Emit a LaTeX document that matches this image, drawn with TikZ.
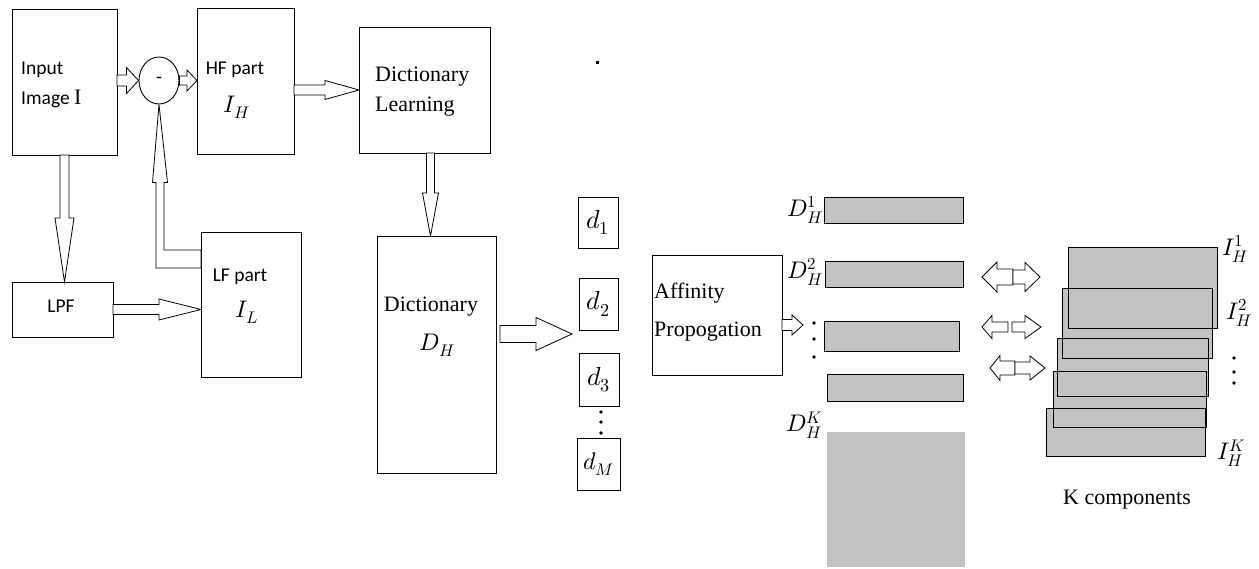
\documentclass[tikz,border=0pt]{standalone}
\usepackage{fontspec}
\usepackage{unicode-math}
\setmainfont{Liberation Serif}
\setmathfont{Latin Modern Math}
\newfontfamily\sansfont{Carlito}
\usetikzlibrary{calc,shapes.geometric}
\definecolor{panelgray}{RGB}{195,195,195}

% hollow block arrow: from, to, shaft half-width, head half-width, head length
\newcommand\hollowarrow[5]{%
  \path ($(#2)!#5!(#1)$) coordinate (hb);
  \draw[hollow] ($(#1)!#3!90:(#2)$) -- ($(hb)!#3!90:(#2)$) -- ($(hb)!#4!90:(#2)$)
    -- (#2) -- ($(hb)!#4!-90:(#2)$) -- ($(hb)!#3!-90:(#2)$) -- ($(#1)!#3!-90:(#2)$) -- cycle;}

\tikzset{
  box/.style 2 args={draw, line width=0.9pt, inner sep=0pt, outer sep=0pt,
    minimum width=#1, minimum height=#2},
  bar/.style 2 args={box={#1}{#2}, fill=panelgray},
  hollow/.style={draw, fill=white, line width=0.8pt, line join=miter},
  sanstxt/.style={font=\sansfont\fontsize{19.5}{30}\selectfont, inner sep=0pt},
  seriftxt/.style={font=\fontsize{22}{30}\selectfont, inner sep=0pt},
  mathtxt/.style={font=\fontsize{24}{28}\selectfont, inner sep=0pt},
  atomtxt/.style={font=\fontsize{26}{28}\selectfont},
}

\begin{document}
\begin{tikzpicture}[x=1pt, y=-1pt]
\useasboundingbox (0,0) rectangle (1259,569);
\fill[white] (0,0) rectangle (1259,569);

% ---- decomposition stage
\node[box={105pt}{146pt}] (inp) at (64.5,82) {};
\node[draw, ellipse, line width=0.9pt, inner sep=0pt, minimum width=40pt, minimum height=47pt,
      font=\sansfont\fontsize{19.5}{24}\selectfont] (sub) at (159,80.5) {-};
\node[box={97pt}{146pt}] (hf) at (245.5,81) {};
\node[box={131pt}{126pt}] (dl) at (424.5,90) {};
\node[box={101pt}{55pt}] (lpf) at (62.5,309.5) {};
\node[box={100pt}{145pt}] (lf) at (251,304.5) {};
\node[box={119pt}{237pt}] (dict) at (436.5,354.5) {};

% ---- atoms
\node[box={40pt}{51pt}, atomtxt] (d1) at (598,222.5) {$d_1$};
\node[box={39pt}{52pt}, atomtxt] (d2) at (598.5,304) {$d_2$};
\node[box={40pt}{53pt}, atomtxt] (d3) at (599,379.5) {$d_3$};
\node[box={43pt}{52pt}, mathtxt] (dM) at (598.5,464) {$d_M$};

% ---- clustering
\node[box={130pt}{120pt}] (ap) at (717,315) {};
\node[bar={139pt}{26pt}] (r1) at (893.5,210) {};
\node[bar={138pt}{26pt}] (r2) at (894,274) {};
\node[bar={135pt}{30pt}] (r3) at (891.5,336) {};
\node[bar={136pt}{27pt}] (r4) at (895,387.5) {};
\node[fill=panelgray, inner sep=0pt, minimum width=138pt, minimum height=135pt] (blk) at (896,499.5) {};

% ---- stacked components: fills first, then every outline on top
\foreach \xa/\ya/\xb/\yb in {1068/247/1217/328, 1062/288/1212/358, 1057/338/1208/396,
                             1053/371/1206/427, 1046/408/1205/456}
  \fill[panelgray] (\xa,\ya) rectangle (\xb,\yb);
\foreach \xa/\ya/\xb/\yb in {1068/247/1217/328, 1062/288/1212/358, 1057/338/1208/396,
                             1053/371/1206/427, 1046/408/1205/456}
  \draw[line width=0.9pt] (\xa,\ya) rectangle (\xb,\yb);

% ---- arrows
\coordinate (a1s) at (inp.east |- sub.west);
\hollowarrow{a1s}{sub.west}{5.5pt}{13pt}{12pt}
\coordinate (a2e) at (hf.west |- sub.east);
\hollowarrow{sub.east}{a2e}{4.5pt}{10.5pt}{10pt}
\coordinate (a3s) at (hf.east |- dl.west);
\hollowarrow{a3s}{dl.west}{5pt}{9.5pt}{34pt}
\coordinate (a4e) at (inp.south |- lpf.north);
\hollowarrow{inp.south}{a4e}{4.5pt}{9.5pt}{64pt}
\coordinate (a5e) at (lf.west |- lpf.east);
\hollowarrow{lpf.east}{a5e}{5pt}{10.5pt}{42pt}
\coordinate (dlx) at (dl.south -| dict.north);
\coordinate (a6s) at ($(dl.south)!.5!(dlx)$);
\coordinate (a6e) at (a6s |- dict.north);
\hollowarrow{a6s}{a6e}{4pt}{8pt}{43pt}
\coordinate (a7e) at ([xshift=-7pt,yshift=-4pt]d2.south west);
\coordinate (a7s0) at (dict.east |- a7e);
\coordinate (a7s) at ([xshift=4pt]a7s0);
\hollowarrow{a7s}{a7e}{8.5pt}{16.5pt}{36pt}
\coordinate (a9s) at ([yshift=-10pt]ap.east);
\coordinate (a9e) at ([xshift=21pt]a9s);
\hollowarrow{a9s}{a9e}{5.5pt}{10pt}{11pt}

% low-frequency feedback into the subtractor
\coordinate (eo) at ([yshift=-36pt]lf.north west);
\coordinate (ei) at ([yshift=-18pt]lf.north west);
\draw[hollow] (sub.south) -- ++(-6.5,78) -- ++(3.5,0) coordinate (sl) -- (sl |- eo) -- (eo)
  -- (ei) -- ++(-37,0) coordinate (si) -- (si |- sl) -- ++(3.5,0) -- cycle;

% two-way arrows between clusters and components
\coordinate (m1) at (1013,277); \coordinate (l1) at (982,277); \coordinate (q1) at (1040,277);
\hollowarrow{m1}{l1}{8pt}{15pt}{15pt}
\hollowarrow{m1}{q1}{7pt}{14.5pt}{15pt}
\coordinate (m2a) at (1008,327); \coordinate (m2b) at (1012,327);
\coordinate (l2) at (982,327); \coordinate (q2) at (1041,327);
\hollowarrow{m2a}{l2}{5pt}{11.5pt}{10pt}
\hollowarrow{m2b}{q2}{5pt}{11.5pt}{16pt}
\coordinate (m3) at (1015,368); \coordinate (l3) at (990,368); \coordinate (q3) at (1045,368);
\hollowarrow{m3}{l3}{7pt}{12.5pt}{10pt}
\hollowarrow{m3}{q3}{6pt}{12pt}{15pt}

% ---- texts
\node[sanstxt, anchor=west, align=left] (tin) at (21,85)
  {Input\\Image {\rmfamily\fontsize{22}{22}\selectfont I}};
\node[sanstxt] (thf) at (235,70) {HF part};
\node[mathtxt] (tih) at (237,107) {$I_H$};
\node[sanstxt] (tlf) at (240,277) {LF part};
\node[mathtxt] (til) at (247,312) {$I_L$};
\node[sanstxt] (tlp) at (61,306) {LPF};
\node[seriftxt, anchor=west, align=left] (tdl) at (375,92) {Dictionary\\Learning};
\node[seriftxt] (tdi) at (431,307) {Dictionary};
\node[mathtxt] (tdh) at (437,345) {$D_H$};
\node[seriftxt, anchor=west, align=left, font=\fontsize{22}{38}\selectfont] (tap) at (654,312)
  {Affinity\\Propogation};
\node[mathtxt, anchor=east] (dh1) at (823,210) {$D_H^1$};
\node[mathtxt, anchor=east] (dh2) at (823,272) {$D_H^2$};
\node[mathtxt, anchor=east] (dhk) at (823,425) {$D_H^K$};
\node[mathtxt, anchor=west] (ih1) at (1222,249) {$I_H^1$};
\node[mathtxt, anchor=west] (ih2) at (1226,313) {$I_H^2$};
\node[mathtxt, anchor=west] (ihk) at (1217,453) {$I_H^K$};
\node[seriftxt] (tkc) at (1127,500) {K components};

% ---- ellipsis dots
\foreach \y in {412,422,433} \fill (601,\y) circle (1.8pt);
\foreach \y in {323,339,357} \fill (814,\y) circle (1.8pt);
\foreach \y in {358,372,383} \fill (1234,\y) circle (1.8pt);
\fill (595.5,61.5) rectangle (598.5,64.5);
\end{tikzpicture}
\end{document}
